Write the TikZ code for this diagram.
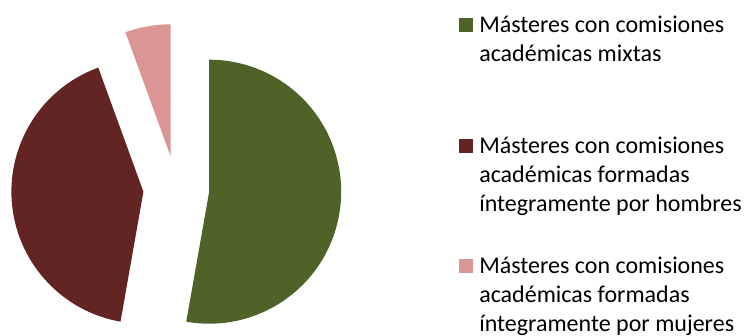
\documentclass[tikz,border=0pt]{standalone}
\usepackage{fontspec}
\setmainfont{Carlito}
\usetikzlibrary{positioning}

\definecolor{mixtas}{RGB}{79,98,40}
\definecolor{hombres}{RGB}{99,37,35}
\definecolor{mujeres}{RGB}{217,150,148}

\tikzset{
  legbox/.style={minimum size=10.5pt, inner sep=0pt, anchor=south east},
  legtext/.style={font=\fontsize{18}{22}\selectfont, align=left, inner sep=0pt, anchor=base west}
}

\begin{document}
\begin{tikzpicture}[x=0.75pt, y=0.75pt]
  \useasboundingbox (0, 0) rectangle (744, 336);

  % pie, each slice pushed out from the centre
  \begin{scope}[shift={(176.3, 147.2)}]
    \foreach \a/\b/\c in {-100/90/mixtas, 90/110/mujeres, 110/260/hombres} {
      \pgfmathsetmacro{\m}{(\a + \b) / 2}
      \fill[\c] (\m:33) -- ++(\a:132) arc[start angle=\a, end angle=\b, radius=132] -- cycle;
    }
  \end{scope}

  % legend (base of a text node = its last line)
  \node[legtext] (txtmixtas) at (479, 274.3) {Másteres con comisiones\\académicas mixtas};
  \node[legtext] (txthombres) at (479, 124.3) {Másteres con comisiones\\académicas formadas\\íntegramente por hombres};
  \node[legtext] (txtmujeres) at (479, 4.3) {Másteres con comisiones\\académicas formadas\\íntegramente por mujeres};

  \node[legbox, fill=mixtas] (boxmixtas) at ([xshift=-4.3pt, yshift=22pt]txtmixtas.base west) {};
  \node[legbox, fill=hombres] (boxhombres) at ([xshift=-4.3pt, yshift=44pt]txthombres.base west) {};
  \node[legbox, fill=mujeres] (boxmujeres) at ([xshift=-4.3pt, yshift=44pt]txtmujeres.base west) {};
\end{tikzpicture}
\end{document}
